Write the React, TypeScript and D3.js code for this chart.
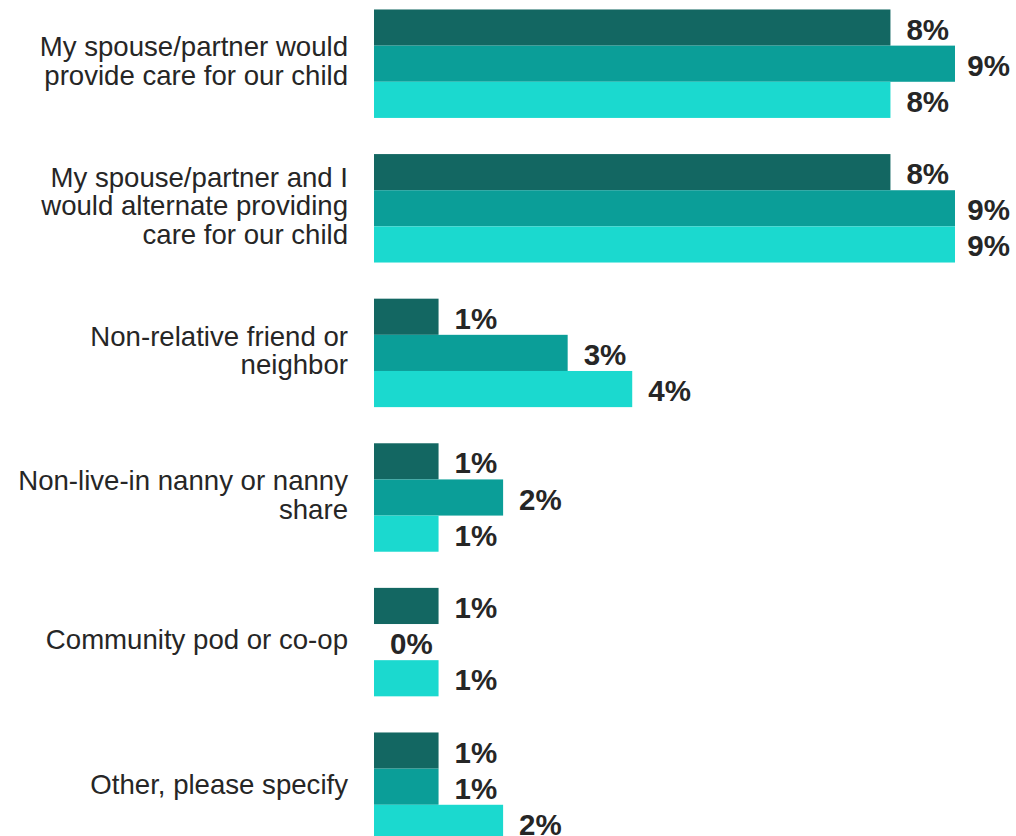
import React from "react";
import * as d3 from "d3";

const categories: string[][] = [
  ["My spouse/partner would", "provide care for our child"],
  ["My spouse/partner and I", "would alternate providing", "care for our child"],
  ["Non-relative friend or", "neighbor"],
  ["Non-live-in nanny or nanny", "share"],
  ["Community pod or co-op"],
  ["Other, please specify"],
];
const seriesNames = ["Series A", "Series B", "Series C"];
const seriesA = [8, 8, 1, 1, 1, 1];
const seriesB = [9, 9, 3, 2, 0, 1];
const seriesC = [8, 9, 4, 1, 1, 2];
const seriesColors = ["#136762", "#0b9e98", "#1bd9cf"];

const W = 1016;
const H = 836;

export default function App() {
  const series = [seriesA, seriesB, seriesC];
  const x = d3.scaleLinear().domain([0, 9]).range([374, 955]);
  const y = d3
    .scaleBand<number>()
    .domain(d3.range(categories.length))
    .range([-8.6, 859])
    .paddingInner(0.25)
    .paddingOuter(0.125);
  const inner = d3
    .scaleBand<number>()
    .domain(d3.range(seriesNames.length))
    .range([0, y.bandwidth()]);
  const lineH = 28.5;
  const fmt = (v: number) => `${v}%`;

  return (
    <svg
      width={W}
      height={H}
      style={{ position: "absolute", left: 0, top: 0, background: "#fff" }}
      fontFamily="'Liberation Sans', Arial, sans-serif"
    >
      {categories.map((lines, i) => {
        const gy = y(i)!;
        const cy = gy + y.bandwidth() / 2;
        const first = cy - ((lines.length - 1) * lineH) / 2 + 7;
        return (
          <g key={i}>
            <text textAnchor="end" fontSize={27.6} fill="#262626">
              {lines.map((ln, k) => (
                <tspan key={k} x={348} y={first + k * lineH}>
                  {ln}
                </tspan>
              ))}
            </text>
            {series.map((s, j) => {
              const v = s[i];
              const by = gy + inner(j)!;
              const bh = inner.bandwidth();
              const xe = x(v);
              const overflow = xe + 16 + 46 > W - 4;
              return (
                <g key={j}>
                  {v > 0 && (
                    <rect
                      x={x(0)}
                      y={by}
                      width={xe - x(0)}
                      height={bh}
                      fill={seriesColors[j]}
                    />
                  )}
                  <text
                    x={overflow ? W - 6 : xe + 16}
                    y={by + bh / 2 + 12}
                    textAnchor={overflow ? "end" : "start"}
                    fontSize={29.5}
                    fontWeight="bold"
                    fill="#262626"
                  >
                    {fmt(v)}
                  </text>
                </g>
              );
            })}
          </g>
        );
      })}
    </svg>
  );
}
